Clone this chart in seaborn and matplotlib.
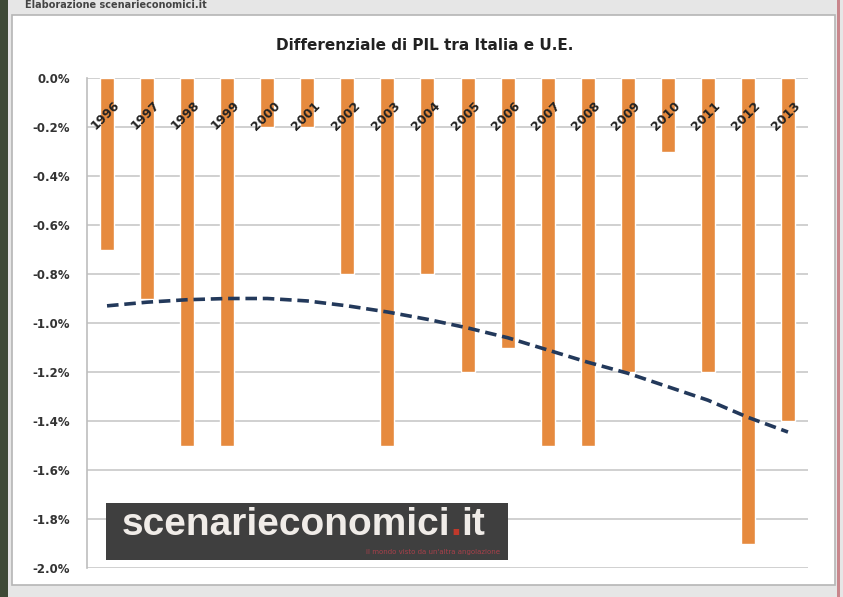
import matplotlib.pyplot as plt
import matplotlib.patches as mpatches
import matplotlib.transforms as mtransforms
from matplotlib.ticker import FuncFormatter, MultipleLocator
import pandas as pd
import seaborn as sns

sns.set_theme(style="whitegrid")
plt.rcParams['font.family'] = ['DejaVu Sans']

YEARS = ["1996", "1997", "1998", "1999", "2000", "2001", "2002", "2003", "2004",
         "2005", "2006", "2007", "2008", "2009", "2010", "2011", "2012", "2013"]
DIFF = [-0.7, -0.9, -1.5, -1.5, -0.2, -0.2, -0.8, -1.5, -0.8,
        -1.2, -1.1, -1.5, -1.5, -1.2, -0.3, -1.2, -1.9, -1.4]
# polynomial trend line as drawn in the original
TREND = [-0.93, -0.915, -0.905, -0.90, -0.90, -0.91, -0.93, -0.955, -0.985,
         -1.02, -1.06, -1.11, -1.16, -1.205, -1.26, -1.315, -1.385, -1.445]

BAR = "#e68a3e"
LINE = "#23395b"

if __name__ == "__main__":
    df = pd.DataFrame({"anno": YEARS, "diff": DIFF, "trend": TREND})
    df["pos"] = range(len(df))

    fig = plt.figure(figsize=(8.43, 5.97), dpi=100)
    fig.patch.set_facecolor("#e6e6e6")

    # chart area (white panel with grey border), like the spreadsheet chart box
    fig.patches.append(mpatches.Rectangle((12 / 843, 12 / 597), 823 / 843, 570 / 597,
                                          transform=fig.transFigure, facecolor="white",
                                          edgecolor="#b5b5b5", lw=1.2, zorder=-2))
    fig.patches.append(mpatches.Rectangle((0, 0), 8 / 843, 1, transform=fig.transFigure,
                                          facecolor="#3e4a36", edgecolor="none", zorder=-2))
    fig.patches.append(mpatches.Rectangle((837 / 843, 0), 3 / 843, 1, transform=fig.transFigure,
                                          facecolor="#c9868c", edgecolor="none", zorder=-2))
    fig.text(25 / 843, 1.0, "Elaborazione scenarieconomici.it", fontsize=7, color="#444444",
             fontweight="bold", va="top", ha="left")

    ax = fig.add_axes([87 / 843, 29 / 597, 721 / 843, 490 / 597])
    ax.set_zorder(1)
    ax.set_facecolor("white")

    sns.barplot(data=df, x="anno", y="diff", color=BAR, width=0.35, saturation=1,
                ax=ax, zorder=2)
    sns.lineplot(data=df, x="pos", y="trend", color=LINE, lw=2.6, ax=ax, zorder=3)
    ax.lines[-1].set_linestyle((0, (3.2, 1.6)))

    ax.set_xlim(-0.5, len(YEARS) - 0.5)
    ax.set_ylim(-2.0, 0.0)
    ax.yaxis.set_major_locator(MultipleLocator(0.2))
    ax.yaxis.set_major_formatter(FuncFormatter(lambda v, p: f"{v:.1f}%" if abs(v) > 1e-9 else "0.0%"))
    ax.grid(axis="y", color="#c8c8c8", lw=1.2)
    ax.grid(axis="x", visible=False)
    ax.set_axisbelow(True)
    ax.xaxis.set_zorder(4)  # year labels drawn over the bars
    ax.set_xlabel("")
    ax.set_ylabel("")

    for s in ["top", "right", "bottom"]:
        ax.spines[s].set_visible(False)
    ax.spines["left"].set_color("#bdbdbd")
    ax.spines["left"].set_linewidth(1.2)

    ax.tick_params(axis="y", length=0, pad=12, labelsize=8.5, labelcolor="#333333")
    for lbl in ax.get_yticklabels():
        lbl.set_fontweight("bold")

    # category labels sit just below the zero line, rotated, over the bars
    ax.xaxis.tick_top()
    ax.tick_params(axis="x", length=0, pad=-15, labelsize=9, labelcolor="#222222")
    shift = mtransforms.ScaledTranslation(6 / 100, 0, fig.dpi_scale_trans)
    for lbl in ax.get_xticklabels():
        lbl.set_rotation(45)
        lbl.set_ha("right")
        lbl.set_va("top")
        lbl.set_rotation_mode("anchor")
        lbl.set_fontweight("bold")
        lbl.set_transform(lbl.get_transform() + shift)

    fig.text(425 / 843, 1 - 45 / 597, "Differenziale di PIL tra Italia e U.E.",
             ha="center", va="center", fontsize=11, fontweight="bold", color="#222222")

    # watermark
    fig.patches.append(mpatches.Rectangle((106 / 843, 1 - 560 / 597), 402 / 843, 57 / 597,
                                          transform=fig.transFigure, facecolor="#3f3f3f",
                                          edgecolor="none", zorder=5))
    fs = 28
    wm = fig.text(122 / 843, 1 - 525 / 597, "scenarieconomici", fontsize=fs, color="#f0ece8",
                  family="Liberation Sans", fontweight="bold", ha="left", va="center", zorder=6)
    r = fig.canvas.get_renderer()
    x1 = wm.get_window_extent(r).x1 / 843
    dot = fig.text(x1, 1 - 525 / 597, ".", fontsize=fs, color="#c0392b", family="Liberation Sans",
                   fontweight="bold", ha="left", va="center", zorder=6)
    x2 = dot.get_window_extent(r).x1 / 843
    fig.text(x2, 1 - 525 / 597, "it", fontsize=fs, color="#f0ece8", family="Liberation Sans",
             fontweight="bold", ha="left", va="center", zorder=6)
    fig.text(500 / 843, 1 - 552 / 597, "il mondo visto da un'altra angolazione",
             fontsize=5, color="#a8404a", ha="right", va="center", zorder=6)

    plt.savefig("out.png", dpi=100, facecolor=fig.get_facecolor())
